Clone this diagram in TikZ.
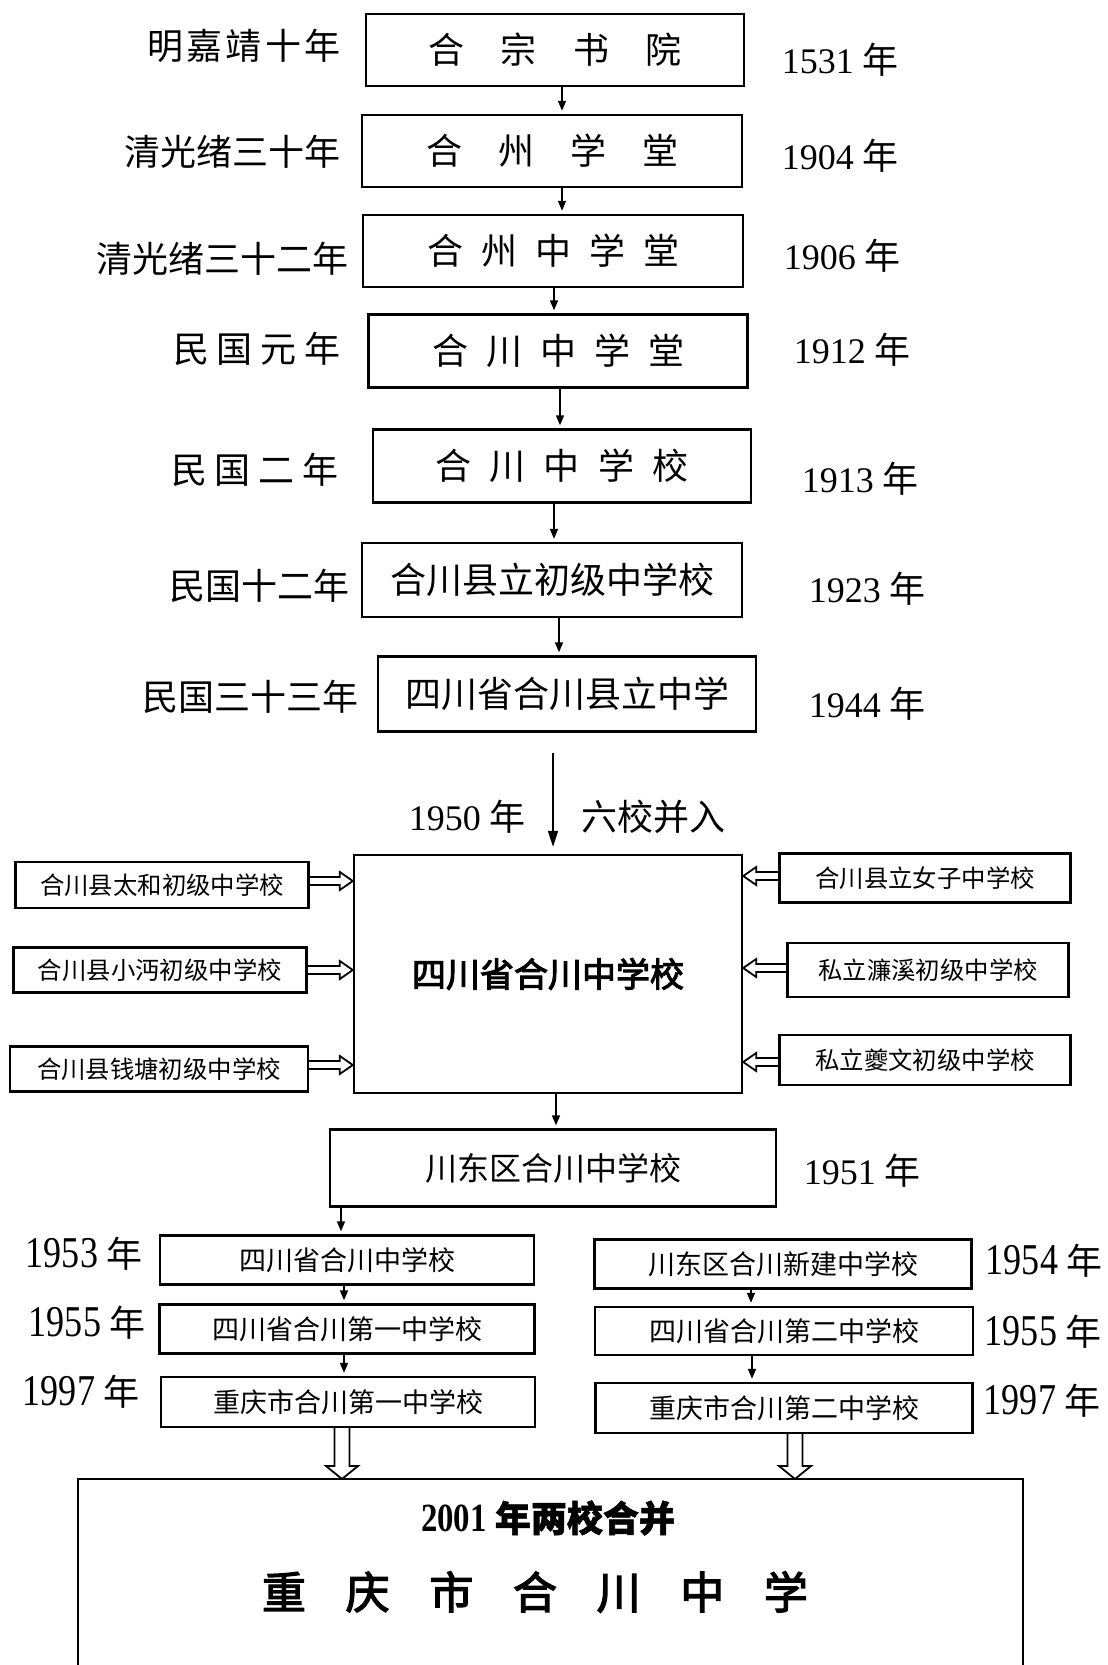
\documentclass[tikz,border=0pt]{standalone}
\usepackage{fontspec}
\setmainfont{Noto Sans CJK SC}[BoldFeatures={FakeBold=1.5}]
\newfontfamily\numf{Liberation Serif}
\newfontfamily\numc{Liberation Serif}[FakeStretch=0.82]
\newfontfamily\heavy{Noto Sans CJK SC}[FakeBold=3]
\usetikzlibrary{arrows.meta,calc}
\newcommand\yr[1]{{\numf #1} 年}
\newcommand\yrc[1]{{\fontsize{22pt}{22pt}\selectfont\numc #1} 年}
\newcommand\spreadtext[2]{\makebox[#1][s]{#2}}
\begin{document}
\begin{tikzpicture}[x=0.5pt,y=-0.5pt,
  box/.style 2 args={draw, line width=1.2pt, inner sep=0pt, align=center,
    minimum width=#1*0.5pt, minimum height=#2*0.5pt},
  arr/.style={line width=0.8pt, shorten >=1.5pt, -{Triangle[length=5pt,width=4pt]}},
  bigarr/.style={line width=0.8pt, -{Triangle[length=8pt,width=5pt]}},
  hol/.style={draw, line width=0.9pt, line join=miter},
  lab/.style={inner sep=0pt, font=\fontsize{18pt}{20pt}\selectfont},
  bt/.style={font=\fontsize{18pt}{20pt}\selectfont},
  st/.style={font=\fontsize{12.2pt}{14pt}\selectfont},
  mt/.style={font=\fontsize{13.5pt}{15pt}\selectfont}]
\useasboundingbox (0,0) rectangle (1108,1665);

% main chain
\node[box={378}{72}, bt] (B1) at (555,50) {\spreadtext{127pt}{合\hfill 宗\hfill 书\hfill 院}};
\node[box={380}{72}, bt] (B2) at (552,151) {\spreadtext{126pt}{合\hfill 州\hfill 学\hfill 堂}};
\node[box={380}{72}, bt] (B3) at (553,251) {\spreadtext{126pt}{合\hfill 州\hfill 中\hfill 学\hfill 堂}};
\node[box={379}{73}, bt] (B4) at (558,351) {\spreadtext{126pt}{合\hfill 川\hfill 中\hfill 学\hfill 堂}};
\node[box={378}{73}, bt] (B5) at (562,466) {\spreadtext{127pt}{合\hfill 川\hfill 中\hfill 学\hfill 校}};
\node[box={380}{74}, bt] (B6) at (552,580) {合川县立初级中学校};
\node[box={378}{75}, bt] (B7) at (567,694) {四川省合川县立中学};

% left labels
\node[lab] (l1) at (244,46) {\spreadtext{97pt}{明\hfill 嘉\hfill 靖\hfill 十\hfill 年}};
\node[lab] (l2) at (232,152) {清光绪三十年};
\node[lab] (l3) at (222,259) {清光绪三十二年};
\node[lab] (l4) at (257,349) {\spreadtext{84pt}{民\hfill 国\hfill 元\hfill 年}};
\node[lab] (l5) at (255,470) {\spreadtext{84pt}{民\hfill 国\hfill 二\hfill 年}};
\node[lab] (l6) at (259,586) {民国十二年};
\node[lab] (l7) at (250,697) {民国三十三年};

% right labels
\node[lab] (r1) at (840,60) {\yr{1531}};
\node[lab] (r2) at (840,156) {\yr{1904}};
\node[lab] (r3) at (842,256) {\yr{1906}};
\node[lab] (r4) at (852,350) {\yr{1912}};
\node[lab] (r5) at (860,479) {\yr{1913}};
\node[lab] (r6) at (867,589) {\yr{1923}};
\node[lab] (r7) at (867,704) {\yr{1944}};

% chain arrows
\coordinate (a1) at ([xshift=3.5pt]B1.south);
\coordinate (a2) at ([xshift=5pt]B2.south);
\coordinate (a3) at ([xshift=0.5pt]B3.south);
\coordinate (a4) at ([xshift=1pt]B4.south);
\coordinate (a5) at ([xshift=-4pt]B5.south);
\coordinate (a6) at ([xshift=3.5pt]B6.south);
\draw[arr] (a1) -- (a1 |- B2.north);
\draw[arr] (a2) -- (a2 |- B3.north);
\draw[arr] (a3) -- (a3 |- B4.north);
\draw[arr] (a4) -- (a4 |- B5.north);
\draw[arr] (a5) -- (a5 |- B6.north);
\draw[arr] (a6) -- (a6 |- B7.north);

% center
\node[box={388}{238}] (C) at (548,974) {\fontsize{17pt}{17pt}\selectfont\heavy 四川省合川中学校};
\coordinate (a7) at ([xshift=2.5pt]C.north);
\draw[bigarr, shorten <=10pt, shorten >=3.5pt] (a7 |- B7.south) -- (a7);
\node[lab] (y50) at (467,817) {\yr{1950}};
\node[lab] (m6) at (653,817) {六校并入};

% side schools
\node[box={293}{46}, st] (L1) at (162,885) {合川县太和初级中学校};
\node[box={293}{45}, st] (L2) at (160,970) {合川县小沔初级中学校};
\node[box={298}{45}, st] (L3) at (159,1069) {合川县钱塘初级中学校};
\node[box={291}{49}, st] (R1) at (925,878) {合川县立女子中学校};
\node[box={281}{54}, st] (R2) at (928,970) {私立濂溪初级中学校};
\node[box={291}{50}, st] (R3) at (925,1060) {私立夔文初级中学校};

\newcommand\hright[2]{%
  \draw[hol] let \p1=(#1), \p2=(#2) in
    (\x1,\y1-2pt) -- (\x2-6.5pt,\y1-2pt) -- (\x2-6.5pt,\y1-4.5pt) -- (\x2,\y1)
    -- (\x2-6.5pt,\y1+4.5pt) -- (\x2-6.5pt,\y1+2pt) -- (\x1,\y1+2pt);}
\newcommand\hleft[2]{%
  \draw[hol] let \p1=(#1), \p2=(#2) in
    (\x1,\y1-2pt) -- (\x2+6.5pt,\y1-2pt) -- (\x2+6.5pt,\y1-4.5pt) -- (\x2,\y1)
    -- (\x2+6.5pt,\y1+4.5pt) -- (\x2+6.5pt,\y1+2pt) -- (\x1,\y1+2pt);}
\newcommand\vdown[2]{%
  \draw[hol] let \p1=(#1), \p2=(#2) in
    (\x1-3.75pt,\y1) -- (\x1-3.75pt,\y2+6.5pt) -- (\x1-8pt,\y2+6.5pt) -- (\x1,\y2)
    -- (\x1+8pt,\y2+6.5pt) -- (\x1+3.75pt,\y2+6.5pt) -- (\x1+3.75pt,\y1);}

\coordinate (hl1) at ([yshift=2pt]L1.east);
\coordinate (hl2) at (L2.east);
\coordinate (hl3) at ([yshift=2pt]L3.east);
\coordinate (hr1) at ([yshift=1pt]R1.west);
\coordinate (hr2) at ([yshift=1pt]R2.west);
\coordinate (hr3) at ([yshift=-1pt]R3.west);
\hright{hl1}{hl1 -| C.west}
\hright{hl2}{hl2 -| C.west}
\hright{hl3}{hl3 -| C.west}
\hleft{hr1}{hr1 -| C.east}
\hleft{hr2}{hr2 -| C.east}
\hleft{hr3}{hr3 -| C.east}

% 1951
\node[box={446}{77}, font=\fontsize{16pt}{18pt}\selectfont] (CD) at (553,1168) {川东区合川中学校};
\node[lab] (r51) at (862,1171) {\yr{1951}};
\coordinate (a8) at ([xshift=4pt]C.south);
\draw[arr] (a8) -- (a8 |- CD.north);

% left branch
\node[box={374}{49}, mt] (LB1) at (347,1260) {四川省合川中学校};
\node[box={375}{49}, mt] (LB2) at (347,1329) {四川省合川第一中学校};
\node[box={374}{50}, mt] (LB3) at (348,1402) {重庆市合川第一中学校};
\node[lab] (ly1) at (84,1254) {\yrc{1953}};
\node[lab] (ly2) at (87,1323) {\yrc{1955}};
\node[lab] (ly3) at (81,1392) {\yrc{1997}};
\coordinate (a9) at (CD.south -| 341,0);
\draw[arr] (a9) -- (a9 |- LB1.north);
\coordinate (a10) at ([xshift=-1.5pt]LB1.south);
\draw[arr] (a10) -- (a10 |- LB2.north);
\coordinate (a11) at ([xshift=-1.5pt]LB2.south);
\draw[arr] (a11) -- (a11 |- LB3.north);

% right branch
\node[box={377}{49}, mt] (RB1) at (783,1264) {川东区合川新建中学校};
\node[box={378}{48}, mt] (RB2) at (784,1331) {四川省合川第二中学校};
\node[box={377}{50}, mt] (RB3) at (784,1408) {重庆市合川第二中学校};
\node[lab] (ry1) at (1044,1261) {\yrc{1954}};
\node[lab] (ry2) at (1043,1332) {\yrc{1955}};
\node[lab] (ry3) at (1042,1401) {\yrc{1997}};
\coordinate (a12) at ([xshift=-16pt]RB1.south);
\draw[arr] (a12) -- (a12 |- RB2.north);
\coordinate (a13) at ([xshift=-16pt]RB2.south);
\draw[arr] (a13) -- (a13 |- RB3.north);

% final box (bottom edge beyond the page)
\coordinate (FTL) at (78,1479);
\coordinate (FTR) at (1023,1479);
\draw[line width=1.2pt] (78,1700) -- (FTL) -- (FTR) -- (1023,1700);
\node[inner sep=0pt, font=\fontsize{18pt}{20pt}\selectfont\bfseries] (F1) at (548,1518) {{\numc\bfseries\fontsize{20pt}{20pt}\selectfont 2001} 年两校合并};
\node[inner sep=0pt, font=\fontsize{22pt}{24pt}\selectfont] (F2) at (535,1592) {\heavy\spreadtext{273pt}{重\hfill 庆\hfill 市\hfill 合\hfill 川\hfill 中\hfill 学}};

\coordinate (b1) at (LB3.south -| 342,0);
\coordinate (b2) at (RB3.south -| 795,0);
\vdown{b1}{b1 |- FTL}
\vdown{b2}{b2 |- FTR}
\end{tikzpicture}
\end{document}
